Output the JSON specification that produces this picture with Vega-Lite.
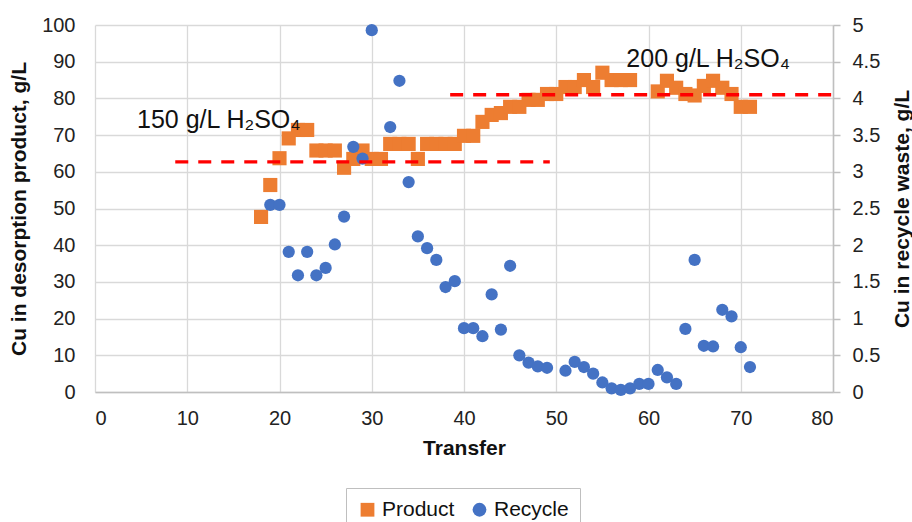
{
  "$schema": "https://vega.github.io/schema/vega-lite/v6.json",
  "width": 738,
  "height": 367,
  "autosize": {"type": "none"},
  "padding": {"left": 95, "top": 25, "right": 79, "bottom": 130},
  "background": "white",
  "config": {
    "view": {"stroke": null},
    "font": "Liberation Sans",
    "axis": {"labelFont": "Liberation Sans", "titleFont": "Liberation Sans", "labelColor": "#222222", "titleColor": "#111111", "labelOverlap": false}
  },
  "datasets": {
    "cu": [
      {"transfer": 18, "series": "Product", "cu": 47.7},
      {"transfer": 19, "series": "Product", "cu": 56.4},
      {"transfer": 20, "series": "Product", "cu": 63.7},
      {"transfer": 21, "series": "Product", "cu": 69.1},
      {"transfer": 22, "series": "Product", "cu": 71.4},
      {"transfer": 23, "series": "Product", "cu": 71.4},
      {"transfer": 24, "series": "Product", "cu": 65.8},
      {"transfer": 25, "series": "Product", "cu": 65.8},
      {"transfer": 26, "series": "Product", "cu": 65.8},
      {"transfer": 27, "series": "Product", "cu": 61.1},
      {"transfer": 28, "series": "Product", "cu": 63.5},
      {"transfer": 29, "series": "Product", "cu": 65.8},
      {"transfer": 30, "series": "Product", "cu": 63.5},
      {"transfer": 31, "series": "Product", "cu": 63.5},
      {"transfer": 32, "series": "Product", "cu": 67.6},
      {"transfer": 33, "series": "Product", "cu": 67.6},
      {"transfer": 34, "series": "Product", "cu": 67.6},
      {"transfer": 35, "series": "Product", "cu": 63.5},
      {"transfer": 36, "series": "Product", "cu": 67.6},
      {"transfer": 37, "series": "Product", "cu": 67.6},
      {"transfer": 38, "series": "Product", "cu": 67.6},
      {"transfer": 39, "series": "Product", "cu": 67.6},
      {"transfer": 40, "series": "Product", "cu": 69.8},
      {"transfer": 41, "series": "Product", "cu": 69.8},
      {"transfer": 42, "series": "Product", "cu": 73.6},
      {"transfer": 43, "series": "Product", "cu": 75.5},
      {"transfer": 44, "series": "Product", "cu": 76.0},
      {"transfer": 45, "series": "Product", "cu": 77.7},
      {"transfer": 46, "series": "Product", "cu": 77.7},
      {"transfer": 47, "series": "Product", "cu": 79.6},
      {"transfer": 48, "series": "Product", "cu": 79.6},
      {"transfer": 49, "series": "Product", "cu": 81.2},
      {"transfer": 50, "series": "Product", "cu": 81.2},
      {"transfer": 51, "series": "Product", "cu": 83.1},
      {"transfer": 52, "series": "Product", "cu": 83.1},
      {"transfer": 53, "series": "Product", "cu": 85.0},
      {"transfer": 54, "series": "Product", "cu": 83.1},
      {"transfer": 55, "series": "Product", "cu": 87.0},
      {"transfer": 56, "series": "Product", "cu": 85.0},
      {"transfer": 57, "series": "Product", "cu": 85.0},
      {"transfer": 58, "series": "Product", "cu": 85.0},
      {"transfer": 61, "series": "Product", "cu": 81.9},
      {"transfer": 62, "series": "Product", "cu": 84.8},
      {"transfer": 63, "series": "Product", "cu": 82.9},
      {"transfer": 64, "series": "Product", "cu": 81.2},
      {"transfer": 65, "series": "Product", "cu": 80.8},
      {"transfer": 66, "series": "Product", "cu": 83.4},
      {"transfer": 67, "series": "Product", "cu": 84.8},
      {"transfer": 68, "series": "Product", "cu": 82.9},
      {"transfer": 69, "series": "Product", "cu": 81.2},
      {"transfer": 70, "series": "Product", "cu": 77.7},
      {"transfer": 71, "series": "Product", "cu": 77.7},
      {"transfer": 19, "series": "Recycle", "cu": 2.55},
      {"transfer": 20, "series": "Recycle", "cu": 2.55},
      {"transfer": 21, "series": "Recycle", "cu": 1.91},
      {"transfer": 22, "series": "Recycle", "cu": 1.59},
      {"transfer": 23, "series": "Recycle", "cu": 1.91},
      {"transfer": 24, "series": "Recycle", "cu": 1.59},
      {"transfer": 25, "series": "Recycle", "cu": 1.69},
      {"transfer": 26, "series": "Recycle", "cu": 2.01},
      {"transfer": 27, "series": "Recycle", "cu": 2.39},
      {"transfer": 28, "series": "Recycle", "cu": 3.34},
      {"transfer": 29, "series": "Recycle", "cu": 3.18},
      {"transfer": 30, "series": "Recycle", "cu": 4.93},
      {"transfer": 32, "series": "Recycle", "cu": 3.61},
      {"transfer": 33, "series": "Recycle", "cu": 4.24},
      {"transfer": 34, "series": "Recycle", "cu": 2.86},
      {"transfer": 35, "series": "Recycle", "cu": 2.12},
      {"transfer": 36, "series": "Recycle", "cu": 1.96},
      {"transfer": 37, "series": "Recycle", "cu": 1.80},
      {"transfer": 38, "series": "Recycle", "cu": 1.43},
      {"transfer": 39, "series": "Recycle", "cu": 1.51},
      {"transfer": 40, "series": "Recycle", "cu": 0.87},
      {"transfer": 41, "series": "Recycle", "cu": 0.87},
      {"transfer": 42, "series": "Recycle", "cu": 0.76},
      {"transfer": 43, "series": "Recycle", "cu": 1.33},
      {"transfer": 44, "series": "Recycle", "cu": 0.85},
      {"transfer": 45, "series": "Recycle", "cu": 1.72},
      {"transfer": 46, "series": "Recycle", "cu": 0.50},
      {"transfer": 47, "series": "Recycle", "cu": 0.40},
      {"transfer": 48, "series": "Recycle", "cu": 0.35},
      {"transfer": 49, "series": "Recycle", "cu": 0.33},
      {"transfer": 51, "series": "Recycle", "cu": 0.29},
      {"transfer": 52, "series": "Recycle", "cu": 0.41},
      {"transfer": 53, "series": "Recycle", "cu": 0.34},
      {"transfer": 54, "series": "Recycle", "cu": 0.25},
      {"transfer": 55, "series": "Recycle", "cu": 0.13},
      {"transfer": 56, "series": "Recycle", "cu": 0.05},
      {"transfer": 57, "series": "Recycle", "cu": 0.03},
      {"transfer": 58, "series": "Recycle", "cu": 0.05},
      {"transfer": 59, "series": "Recycle", "cu": 0.11},
      {"transfer": 60, "series": "Recycle", "cu": 0.11},
      {"transfer": 61, "series": "Recycle", "cu": 0.30},
      {"transfer": 62, "series": "Recycle", "cu": 0.20},
      {"transfer": 63, "series": "Recycle", "cu": 0.11},
      {"transfer": 64, "series": "Recycle", "cu": 0.86},
      {"transfer": 65, "series": "Recycle", "cu": 1.80},
      {"transfer": 66, "series": "Recycle", "cu": 0.63},
      {"transfer": 67, "series": "Recycle", "cu": 0.62},
      {"transfer": 68, "series": "Recycle", "cu": 1.12},
      {"transfer": 69, "series": "Recycle", "cu": 1.03},
      {"transfer": 70, "series": "Recycle", "cu": 0.61},
      {"transfer": 71, "series": "Recycle", "cu": 0.34}
    ],
    "acid": [
      {"start": 8.7, "end": 49.3, "level": 62.7, "label": "150 g/L H₂SO₄", "lx": 4.55, "ly": 71.8},
      {"start": 38.5, "end": 80, "level": 81.0, "label": "200 g/L H₂SO₄", "lx": 57.6, "ly": 88.6}
    ]
  },
  "layer": [
    {
      "data": {"name": "cu"},
      "transform": [{"filter": "datum.series === 'Product'"}],
      "mark": {"type": "point", "filled": true, "opacity": 1, "size": 200},
      "encoding": {
        "x": {"field": "transfer", "type": "quantitative", "scale": {"domain": [0, 80], "nice": false},
          "axis": {"title": "Transfer", "values": [0, 10, 20, 30, 40, 50, 60, 70, 80], "grid": true, "gridColor": "#d9d9d9", "gridWidth": 1.3, "ticks": false, "domainColor": "#bfbfbf", "domainWidth": 1.5, "labelFontSize": 20, "labelPadding": 16, "titleFontSize": 21, "titleFontWeight": "bold", "titlePadding": 9}},
        "y": {"field": "cu", "type": "quantitative", "scale": {"domain": [0, 100], "nice": false},
          "axis": {"title": "Cu in desorption product, g/L", "values": [0, 10, 20, 30, 40, 50, 60, 70, 80, 90, 100], "format": "d", "grid": true, "gridColor": "#d9d9d9", "gridWidth": 1.3, "ticks": false, "domain": false, "labelFontSize": 20, "labelPadding": 20, "labelOverlap": false, "titleFontSize": 21, "titleFontWeight": "bold", "titlePadding": 12}},
        "color": {"field": "series", "type": "nominal", "scale": {"domain": ["Product", "Recycle"], "range": ["#ED7D31", "#4472C4"]},
          "legend": {"title": null, "orient": "none", "direction": "horizontal", "legendX": 251, "legendY": 463, "padding": 11, "strokeColor": "#bfbfbf", "fillColor": "white", "labelFontSize": 21, "labelFont": "Liberation Sans", "labelColor": "#111111", "symbolSize": 190, "symbolOpacity": 1, "labelOffset": 4, "columnPadding": 14, "symbolStrokeWidth": 0}},
        "shape": {"field": "series", "type": "nominal", "scale": {"domain": ["Product", "Recycle"], "range": ["square", "circle"]}}
      }
    },
    {
      "data": {"name": "cu"},
      "transform": [{"filter": "datum.series === 'Recycle'"}],
      "mark": {"type": "point", "filled": true, "opacity": 1, "size": 150},
      "encoding": {
        "x": {"field": "transfer", "type": "quantitative"},
        "y": {"field": "cu", "type": "quantitative", "scale": {"domain": [0, 5], "nice": false},
          "axis": {"orient": "right", "title": "Cu in recycle waste, g/L", "titleAngle": 270, "titleBaseline": "top", "values": [0, 0.5, 1, 1.5, 2, 2.5, 3, 3.5, 4, 4.5, 5], "format": "~g", "grid": false, "ticks": true, "tickSize": 7, "tickColor": "#bfbfbf", "tickWidth": 1.5, "domain": true, "domainColor": "#bfbfbf", "domainWidth": 1.5, "labelFontSize": 20, "labelPadding": 12, "titleFontSize": 21, "titleFontWeight": "bold", "titlePadding": 12}},
        "color": {"field": "series", "type": "nominal"},
        "shape": {"field": "series", "type": "nominal"}
      }
    },
    {
      "data": {"name": "acid"},
      "mark": {"type": "rule", "color": "#FF0000", "strokeWidth": 3.3, "strokeDash": [13, 10]},
      "encoding": {
        "x": {"field": "start", "type": "quantitative"},
        "x2": {"field": "end"},
        "y": {"field": "level", "type": "quantitative", "scale": {"domain": [0, 100], "nice": false}, "axis": null}
      }
    },
    {
      "data": {"name": "acid"},
      "mark": {"type": "text", "align": "left", "baseline": "alphabetic", "fontSize": 25, "font": "Liberation Sans", "color": "#111111"},
      "encoding": {
        "x": {"field": "lx", "type": "quantitative"},
        "y": {"field": "ly", "type": "quantitative", "scale": {"domain": [0, 100], "nice": false}, "axis": null},
        "text": {"field": "label"}
      }
    }
  ],
  "resolve": {"scale": {"y": "independent"}}
}
